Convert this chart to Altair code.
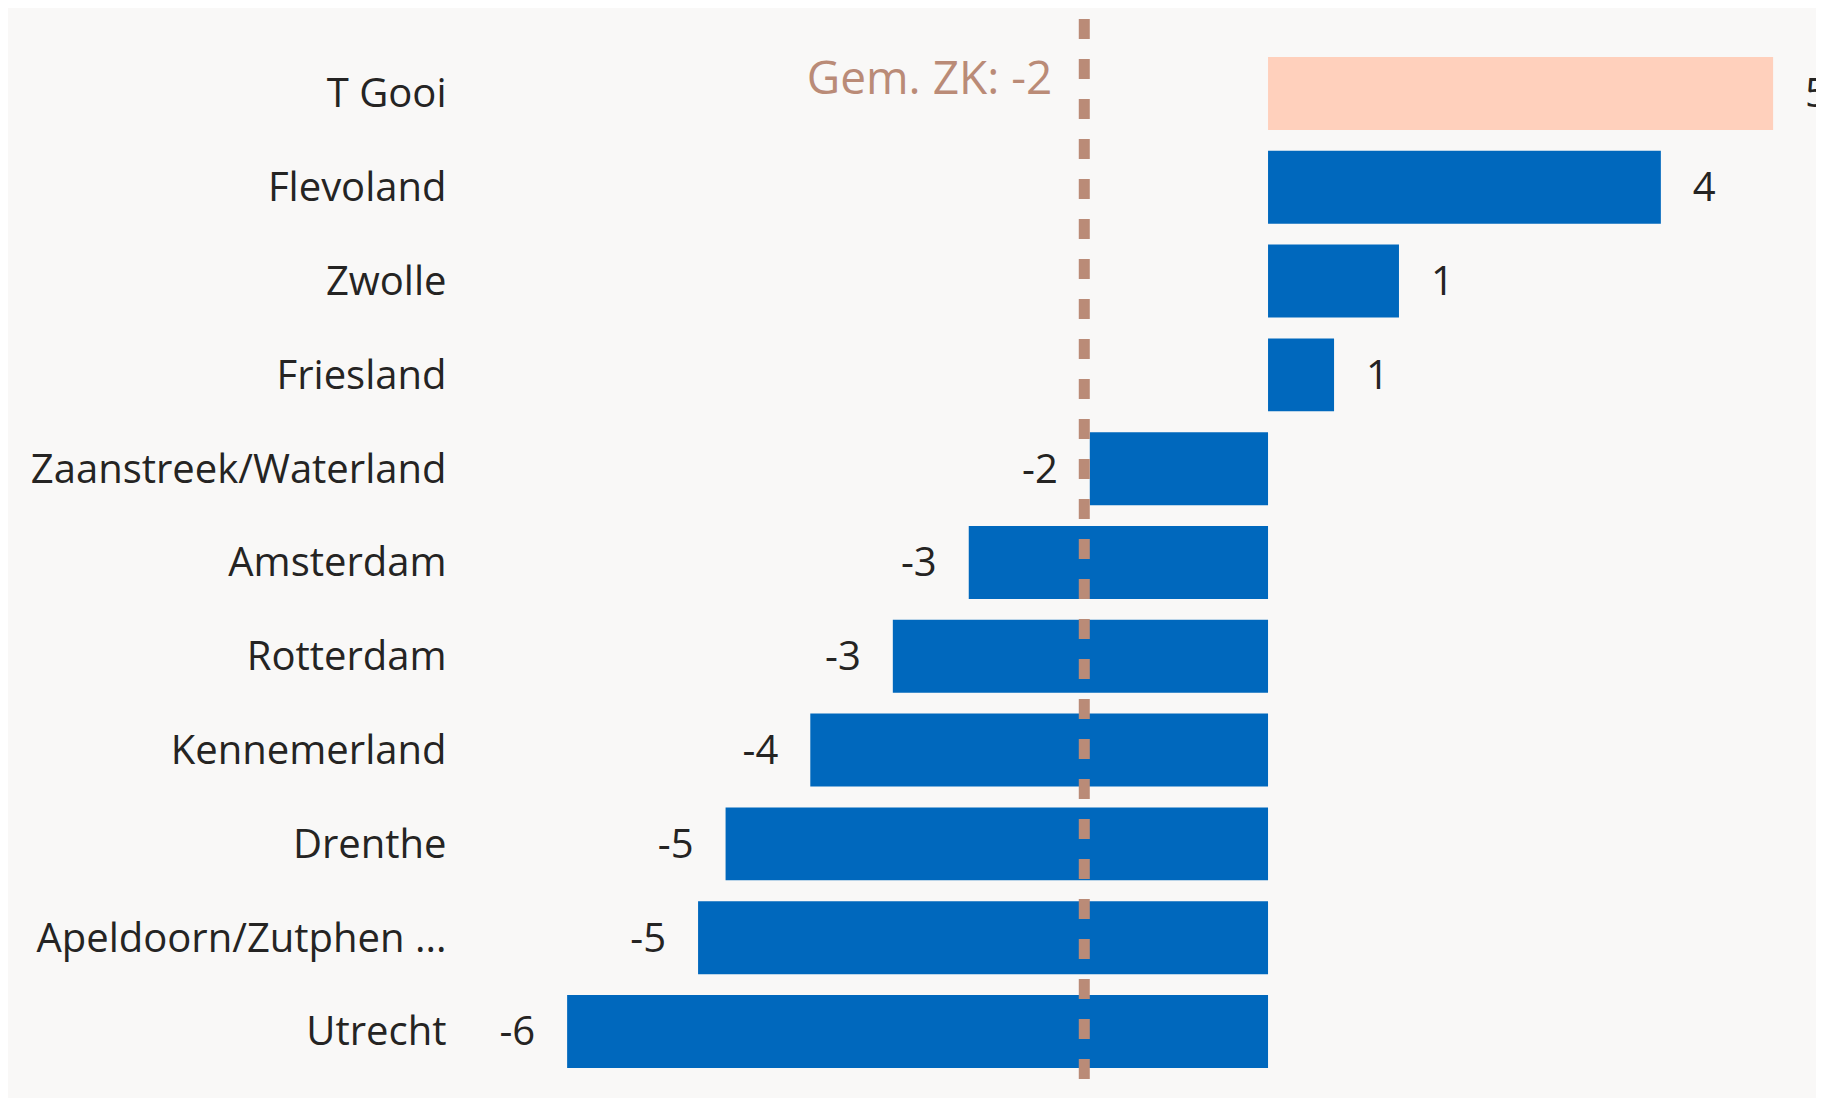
import altair as alt
import pandas as pd

categories = ["T Gooi", "Flevoland", "Zwolle", "Friesland", "Zaanstreek/Waterland",
              "Amsterdam", "Rotterdam", "Kennemerland", "Drenthe",
              "Apeldoorn/Zutphen ...", "Utrecht"]
values = [4.59, 3.57, 1.19, 0.60, -1.62, -2.72, -3.41, -4.16, -4.93, -5.18, -6.37]
value_labels = ["5", "4", "1", "1", "-2", "-3", "-3", "-4", "-5", "-5", "-6"]
highlight = ["yes", "no", "no", "no", "no", "no", "no", "no", "no", "no", "no"]
avg_value = [-1.67]
avg_text = ["Gem. ZK: -2"]

FONT = "Open Sans"
FS = 40
W, H = 1338, 1077

df = pd.DataFrame({"cat": categories, "val": values, "lab": value_labels, "hl": highlight})
avg_df = pd.DataFrame({"v": avg_value, "t": avg_text})

xscale = alt.Scale(domain=[-7.18, 4.98], nice=False, zero=False)
yscale = alt.Scale(domain=categories, paddingInner=0.222, paddingOuter=0.352, align=0.545)

y_enc = alt.Y("cat:N", scale=yscale, sort=categories,
              axis=alt.Axis(title=None, ticks=False, domain=False, grid=False,
                            labelFontSize=FS, labelFont=FONT, labelColor="#252423",
                            labelPadding=32, labelLimit=0, labelOffset=2))

base = alt.Chart(df)

bars = base.mark_bar().encode(
    y=y_enc,
    x=alt.X("val:Q", scale=xscale, axis=None),
    x2=alt.datum(0),
    color=alt.Color("hl:N", scale=alt.Scale(domain=["yes", "no"], range=["#FFD0BC", "#0068BD"]), legend=None),
)

pos_text = base.transform_filter("datum.val >= 0").mark_text(
    align="left", baseline="middle", dx=32, dy=2, fontSize=FS, font=FONT, color="#252423"
).encode(y=alt.Y("cat:N", scale=yscale, sort=categories), x=alt.X("val:Q", scale=xscale), text="lab:N")

neg_text = base.transform_filter("datum.val < 0").mark_text(
    align="right", baseline="middle", dx=-32, dy=2, fontSize=FS, font=FONT, color="#252423"
).encode(y=alt.Y("cat:N", scale=yscale, sort=categories), x=alt.X("val:Q", scale=xscale), text="lab:N")

rule = alt.Chart(avg_df).mark_rule(strokeDash=[20, 20], strokeWidth=11, color="#BA8B77").encode(
    x=alt.X("v:Q", scale=xscale), y=alt.value(-2), y2=alt.value(H + 20)
)

avg_label = alt.Chart(avg_df).mark_text(
    align="right", baseline="middle", dx=-32, fontSize=46, font=FONT, color="#BA8B77"
).encode(x=alt.X("v:Q", scale=xscale), y=alt.value(59), text="t:N")

chart = alt.layer(bars, rule, pos_text, neg_text, avg_label).properties(
    width=W, height=H,
    autosize=alt.AutoSizeParams(type="none"),
    padding={"left": 470, "top": 13, "right": 0, "bottom": 0},
    background="#F9F8F7",
).configure_view(stroke=None)

chart.save("out.html", embed_options={"renderer": "svg", "actions": False})
